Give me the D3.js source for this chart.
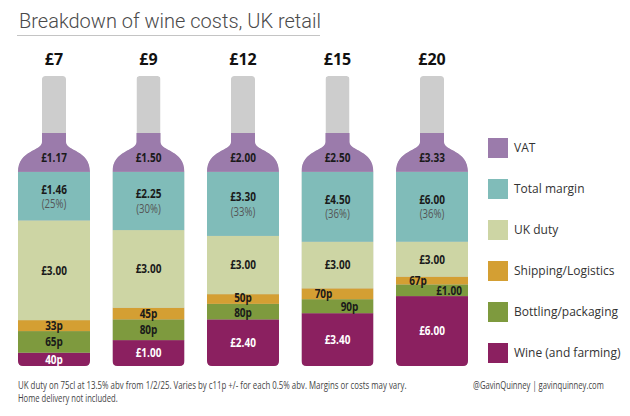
<!DOCTYPE html>
<html>
<head>
    <meta charset="utf-8">
    <title>Breakdown of wine costs, UK retail</title>
    <script type="text/javascript" src="https://cdn.jsdelivr.net/npm/d3@7"></script>
    <style>
        body { margin: 0; background: #fff; }
        svg { display: block; }
        text { font-family: "Open Sans", sans-serif; }
        .title { font-family: Roboto, "Liberation Sans", sans-serif; font-weight: 300; font-size: 20px; fill: #4a4a4a; }
        .price { font-weight: 700; font-size: 16px; fill: #111; }
        .val { font-weight: 700; font-size: 12.5px; }
        .pct { font-weight: 400; font-size: 12px; fill: #555; }
        .legend text { font-size: 12px; fill: #333; }
        .note { font-size: 10px; fill: #444; }
    </style>
</head>

<body>

<script type="text/javascript">
// retail price of each bottle
var prices = ["£7", "£9", "£12", "£15", "£20"];

// cost components, bottom of the bottle first
var wine = [0.40, 1.00, 2.40, 3.40, 6.00];
var bottling = [0.65, 0.80, 0.80, 0.90, 1.00];
var shipping = [0.33, 0.45, 0.50, 0.70, 0.67];
var duty = [3.00, 3.00, 3.00, 3.00, 3.00];
var margin = [1.46, 2.25, 3.30, 4.50, 6.00];
var marginPct = ["25%", "30%", "33%", "36%", "36%"];
var vat = [1.17, 1.50, 2.00, 2.50, 3.33];

var keys = ["wine", "bottling", "shipping", "duty", "margin", "vat"];
var legendNames = ["Wine (and farming)", "Bottling/packaging", "Shipping/Logistics",
    "UK duty", "Total margin", "VAT"];
var colors = d3.scaleOrdinal()
        .domain(keys)
        .range(["#8b2060", "#7e9a3e", "#d49f33", "#cdd5a4", "#80bcb9", "#9b7bab"]);

// small segments whose labels get pushed sideways so they don't collide
var nudge = {"3-shipping": -14, "3-bottling": 12, "4-shipping": -14, "4-bottling": 17};

var width = 630, height = 416;
var neckTop = 76, neckEnd = 142, shoulder = 172, stackTop = 133, bottom = 366;
var neckHalf = 12, bodyHalf = 36;

var rows = prices.map(function (p, i) {
    return {price: p, wine: wine[i], bottling: bottling[i], shipping: shipping[i],
        duty: duty[i], margin: margin[i], vat: vat[i]};
});
var series = d3.stack().keys(keys)(rows);

var x = d3.scalePoint().domain(prices).range([54, 432]);

function yScale(i) {
    var total = d3.sum(keys, function (k) { return rows[i][k]; });
    return d3.scaleLinear().domain([0, total]).range([bottom, stackTop]);
}

function bottlePath(cx) {
    var p = d3.path(), r = 5, rt = 3;
    p.moveTo(cx - neckHalf, neckTop + rt);
    p.quadraticCurveTo(cx - neckHalf, neckTop, cx - neckHalf + rt, neckTop);
    p.lineTo(cx + neckHalf - rt, neckTop);
    p.quadraticCurveTo(cx + neckHalf, neckTop, cx + neckHalf, neckTop + rt);
    p.lineTo(cx + neckHalf, neckEnd);
    p.bezierCurveTo(cx + neckHalf, neckEnd + 9, cx + bodyHalf, neckEnd + 8, cx + bodyHalf, shoulder);
    p.lineTo(cx + bodyHalf, bottom - r);
    p.quadraticCurveTo(cx + bodyHalf, bottom, cx + bodyHalf - r, bottom);
    p.lineTo(cx - bodyHalf + r, bottom);
    p.quadraticCurveTo(cx - bodyHalf, bottom, cx - bodyHalf, bottom - r);
    p.lineTo(cx - bodyHalf, shoulder);
    p.bezierCurveTo(cx - bodyHalf, neckEnd + 8, cx - neckHalf, neckEnd + 9, cx - neckHalf, neckEnd);
    p.closePath();
    return p.toString();
}

function fmt(v) {
    return v < 1 ? Math.round(v * 100) + "p" : "£" + v.toFixed(2);
}

var svg = d3.select("body").append("svg")
        .attr("width", width)
        .attr("height", height);

svg.append("text")
        .attr("class", "title")
        .attr("x", 19)
        .attr("y", 28)
        .text("Breakdown of wine costs, UK retail");

svg.append("line")
        .attr("x1", 17).attr("x2", 320)
        .attr("y1", 35.5).attr("y2", 35.5)
        .attr("stroke", "#c4c4c4");

var defs = svg.append("defs");

var bottles = svg.selectAll("g.bottle")
        .data(rows)
        .enter()
        .append("g")
        .attr("class", "bottle");

bottles.each(function (d, i) {
    var g = d3.select(this), cx = x(d.price), y = yScale(i);

    defs.append("clipPath")
            .attr("id", "clip" + i)
            .append("path")
            .attr("d", bottlePath(cx));

    g.append("text")
            .attr("class", "price")
            .attr("x", cx)
            .attr("y", 65)
            .attr("text-anchor", "middle")
            .text(d.price);

    var body = g.append("g").attr("clip-path", "url(#clip" + i + ")");

    body.append("path")
            .attr("d", bottlePath(cx))
            .attr("fill", "#cdcdcd");

    body.selectAll("rect")
            .data(series)
            .enter()
            .append("rect")
            .attr("x", cx - bodyHalf)
            .attr("width", bodyHalf * 2)
            .attr("y", function (s) { return y(s[i][1]); })
            .attr("height", function (s) { return y(s[i][0]) - y(s[i][1]); })
            .attr("fill", function (s) { return colors(s.key); });

    series.forEach(function (s) {
        var seg = s[i], mid = (y(seg[0]) + y(seg[1])) / 2,
            lx = cx + (nudge[i + "-" + s.key] || 0);
        if (s.key === "vat") mid += 5;
        if (s.key === "margin") mid -= 7;
        if (s.key === "shipping" && i === 2) mid -= 1;
        if (s.key === "bottling" && i === 2) mid += 1;

        g.append("text")
                .attr("class", "val")
                .attr("transform", "translate(" + lx + "," + mid + ") scale(0.8,1)")
                .attr("dy", "0.35em")
                .attr("text-anchor", "middle")
                .attr("fill", s.key === "wine" ? "#fff" : "#1a1a1a")
                .text(fmt(seg.data[s.key]));

        if (s.key === "margin") {
            g.append("text")
                    .attr("class", "pct")
                    .attr("transform", "translate(" + lx + "," + (mid + 14.5) + ") scale(0.8,1)")
                    .attr("dy", "0.35em")
                    .attr("text-anchor", "middle")
                    .text("(" + marginPct[i] + ")");
        }
    });
});

// legend, top to bottom VAT .. Wine
var legendY = d3.scalePoint().domain(keys.slice().reverse()).range([148, 353]);

var legend = svg.append("g")
        .attr("class", "legend")
        .selectAll("g")
        .data(keys.slice().reverse())
        .enter()
        .append("g")
        .attr("transform", function (k) { return "translate(488," + legendY(k) + ")"; });

legend.append("rect")
        .attr("y", -10)
        .attr("width", 20)
        .attr("height", 20)
        .attr("fill", function (k) { return colors(k); });

legend.append("text")
        .attr("x", 26)
        .attr("dy", "0.35em")
        .text(function (k) { return legendNames[keys.indexOf(k)]; });

// footnotes: condensed by a horizontal scale to the reference widths
function note(str, x0, y0, w, fill) {
    var t = svg.append("text")
            .attr("class", "note")
            .attr("fill", fill || "#444")
            .text(str);
    var sx = w / t.node().getComputedTextLength();
    t.attr("transform", "translate(" + x0 + "," + y0 + ") scale(" + sx + ",1)");
}

note("UK duty on 75cl at 13.5% abv from 1/2/25. Varies by c11p +/- for each 0.5% abv. Margins or costs may vary.", 18, 389, 389);
note("Home delivery not included.", 18, 402, 100);
note("@GavinQuinney |  gavinquinney.com", 473, 389, 131, "#555");
</script>

</body>

</html>
